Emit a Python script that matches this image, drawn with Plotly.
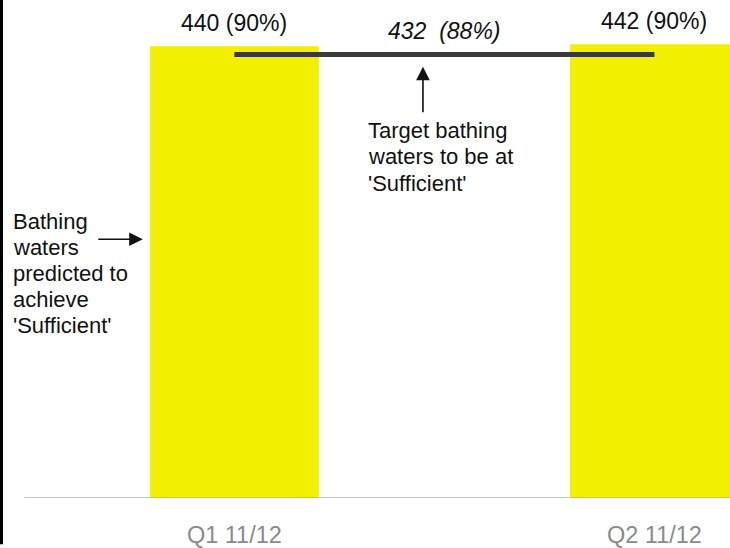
import plotly.graph_objects as go

categories = ["Q1 11/12", "Q2 11/12"]
predicted = [440, 442]
predicted_pct = [90, 90]
target = 432
target_pct = 88
target_note = ["Target bathing", "waters to be at", "'Sufficient'"]
bar_note = ["Bathing", "waters", "predicted to", "achieve", "'Sufficient'"]

FONT = "Arial, Liberation Sans, sans-serif"
W, H = 730, 548
MB = 42
PLOT_H = H - MB

fig = go.Figure()
fig.add_trace(go.Bar(
    x=categories, y=predicted, width=0.402,
    marker=dict(color="#F3EF00", line=dict(width=0)),
    hoverinfo="skip", showlegend=False,
))
fig.add_trace(go.Scatter(
    x=categories, y=[target] * len(categories), mode="lines",
    line=dict(color="#3a3a3a", width=5),
    hoverinfo="skip", showlegend=False,
))

annotations = []
for c, v, p in zip(categories, predicted, predicted_pct):
    annotations.append(dict(
        x=c, y=v, xref="x", yref="y", text=f"{v} ({p}%)", showarrow=False,
        yanchor="middle", yshift=23, font=dict(family=FONT, size=23, color="#111"),
    ))
annotations.append(dict(
    x=0.5, y=target, xref="x", yref="y", text=f"<i>{target}  ({target_pct}%)</i>",
    showarrow=False, yanchor="middle", yshift=23,
    font=dict(family=FONT, size=23, color="#111"),
))
# arrow up to target line
annotations.append(dict(
    x=0.449, y=420, xref="x", yref="y", text="", showarrow=True,
    ax=0, ay=47, arrowhead=2, arrowsize=1.7, arrowwidth=1.6, arrowcolor="#111",
))
for i, line in enumerate(target_note):
    annotations.append(dict(
        x=366 / W, y=(PLOT_H - (133 + 26.5 * i)) / PLOT_H, xref="paper", yref="paper",
        text=line, align="left", xanchor="left", yanchor="middle", showarrow=False,
        font=dict(family=FONT, size=22, color="#111"),
    ))
# arrow to bar
annotations.append(dict(
    x=-0.218, y=252, xref="x", yref="y", text="", showarrow=True,
    ax=-46, ay=0, arrowhead=2, arrowsize=1.7, arrowwidth=1.6, arrowcolor="#111",
))
for i, line in enumerate(bar_note):
    annotations.append(dict(
        x=11 / W, y=(PLOT_H - (225 + 26.5 * i)) / PLOT_H, xref="paper", yref="paper",
        text=line, align="left", xanchor="left", yanchor="middle", showarrow=False,
        font=dict(family=FONT, size=22, color="#111"),
    ))

shapes = [
    dict(type="line", xref="x", yref="y", x0=-0.5, x1=1.3, y0=0, y1=0,
         line=dict(color="#b4b4b4", width=1.5)),
    dict(type="rect", xref="paper", yref="paper", x0=0, x1=3 / W,
         y0=-MB / PLOT_H - 0.01, y1=1.01, fillcolor="#000", line=dict(width=0)),
]

fig.update_layout(
    width=W, height=H, margin=dict(l=0, r=0, t=0, b=MB),
    paper_bgcolor="white", plot_bgcolor="white",
    annotations=annotations, shapes=shapes, showlegend=False,
    xaxis=dict(type="category", range=[-0.558, 1.18], showgrid=False, zeroline=False,
               showline=False, ticks="outside", ticklen=16, tickcolor="rgba(0,0,0,0)",
               tickfont=dict(family=FONT, size=23.5, color="#8a8a8a")),
    yaxis=dict(range=[0, 485.0], showgrid=False, zeroline=False, showline=False,
               showticklabels=False, ticks=""),
)

fig.write_html("out.html")
